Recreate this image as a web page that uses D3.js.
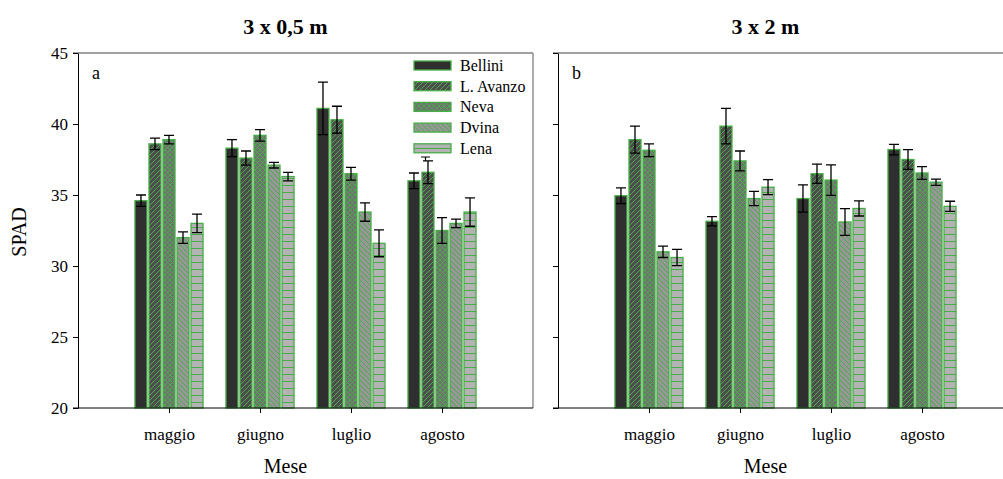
<!DOCTYPE html>
<html>
<head>
<meta charset="utf-8">
<script src="https://cdn.jsdelivr.net/npm/d3@7"></script>
<style>
  body { margin: 0; background: #fff; }
  svg text { font-family: "Liberation Serif", "Times New Roman", serif; fill: #000; }
</style>
</head>
<body>
<svg id="chart" width="1003" height="479"></svg>
<script>
// Months and cultivars
var months = ['maggio', 'giugno', 'luglio', 'agosto'];
var cultivars = ['Bellini', 'L. Avanzo', 'Neva', 'Dvina', 'Lena'];
var yTicks = [20, 25, 30, 35, 40, 45];

// Panel a (3 x 0,5 m): mean per cultivar, one array per month
var meanA = [
    [34.6, 38.6, 38.9, 32.0, 33.0],
    [38.3, 37.6, 39.2, 37.1, 36.3],
    [41.1, 40.3, 36.5, 33.8, 31.6],
    [36.0, 36.6, 32.5, 33.0, 33.8]
];
var errA = [
    [0.4, 0.4, 0.3, 0.4, 0.65],
    [0.6, 0.5, 0.4, 0.2, 0.3],
    [1.85, 0.95, 0.45, 0.65, 0.95],
    [0.55, 0.8, 0.9, 0.3, 1.0]
];

// Panel b (3 x 2 m)
var meanB = [
    [34.95, 38.9, 38.15, 31.0, 30.6],
    [33.15, 39.85, 37.4, 34.75, 35.55],
    [34.75, 36.5, 36.05, 33.1, 34.05],
    [38.2, 37.5, 36.55, 35.9, 34.2]
];
var errB = [
    [0.55, 0.95, 0.45, 0.4, 0.57],
    [0.33, 1.25, 0.7, 0.5, 0.53],
    [0.96, 0.68, 1.07, 0.94, 0.53],
    [0.37, 0.7, 0.45, 0.22, 0.36]
];

var green = '#48ad48';
var svg = d3.select('#chart');
var defs = svg.append('defs');

// Fill patterns for each cultivar
function makePattern(id, bg, size, lines) {
    var p = defs.append('pattern')
        .attr('id', id)
        .attr('patternUnits', 'userSpaceOnUse')
        .attr('width', size)
        .attr('height', size);
    p.append('rect').attr('width', size).attr('height', size).attr('fill', bg);
    lines.forEach(function(l) {
        p.append('line')
            .attr('x1', l[0]).attr('y1', l[1]).attr('x2', l[2]).attr('y2', l[3])
            .attr('stroke', green).attr('stroke-width', 1);
    });
}
makePattern('pBellini', '#2f2f2f', 4, []);
makePattern('pAvanzo', '#4d4d4d', 5, [[0, 5, 5, 0], [-1, 1, 1, -1], [4, 6, 6, 4]]);
makePattern('pNeva', '#717171', 5, [[0, 5, 5, 0], [0, 0, 5, 5], [-1, 1, 1, -1], [4, 6, 6, 4], [-1, 4, 1, 6], [4, -1, 6, 1]]);
makePattern('pDvina', '#979797', 5, [[0, 0, 5, 5], [-1, 4, 1, 6], [4, -1, 6, 1]]);
makePattern('pLena', '#b3b3b3', 7, [[0, 3.5, 7, 3.5]]);
var fills = ['url(#pBellini)', 'url(#pAvanzo)', 'url(#pNeva)', 'url(#pDvina)', 'url(#pLena)'];

var y = d3.scaleLinear().domain([20, 45]).range([408, 53]);

function drawPanel(left, means, errs, label, title, showLabels) {
    var x = d3.scaleLinear().domain([0, 5]).range([left, left + 455]);
    var slot = 0.154; // space per bar in category units
    var barW = x(0.132) - x(0);
    var g = svg.append('g');

    // Bars
    means.forEach(function(row, m) {
        row.forEach(function(v, i) {
            var xc = x(m + 1 + (i - 2) * slot);
            g.append('rect')
                .attr('x', xc - barW / 2)
                .attr('y', y(v))
                .attr('width', barW)
                .attr('height', y(20) - y(v))
                .attr('fill', fills[i])
                .attr('stroke', green)
                .attr('stroke-width', 1.3);
            var e = errs[m][i];
            g.append('path')
                .attr('d', 'M' + (xc - 5) + ',' + y(v + e) + 'H' + (xc + 5) +
                    'M' + xc + ',' + y(v + e) + 'V' + y(v - e) +
                    'M' + (xc - 5) + ',' + y(v - e) + 'H' + (xc + 5))
                .attr('stroke', '#000')
                .attr('stroke-width', 1.3)
                .attr('fill', 'none');
        });
    });

    // Frame: top and right in gray
    g.append('line').attr('x1', left - 5).attr('x2', x(5)).attr('y1', y(45)).attr('y2', y(45))
        .attr('stroke', '#808080').attr('stroke-width', 1.3);
    g.append('line').attr('x1', x(5)).attr('x2', x(5)).attr('y1', y(45)).attr('y2', y(20))
        .attr('stroke', '#808080').attr('stroke-width', 1.3);

    // Axes
    var yAxis = d3.axisLeft(y).tickValues(yTicks).tickSize(5).tickSizeOuter(0)
        .tickFormat(showLabels ? d3.format('d') : '');
    var ya = g.append('g').attr('transform', 'translate(' + left + ',0)').call(yAxis);
    ya.select('.domain').attr('stroke', '#000');
    ya.selectAll('text').attr('font-size', 17).attr('x', -10);

    var xAxis = d3.axisBottom(x).tickValues([1, 2, 3, 4]).tickSize(5).tickSizeOuter(0)
        .tickFormat(function(d) { return months[d - 1]; });
    var xa = g.append('g').attr('transform', 'translate(0,' + y(20) + ')').call(xAxis);
    xa.select('.domain').attr('d', 'M' + (left - 5) + ',0H' + x(5));
    xa.selectAll('text').attr('font-size', 17).attr('y', 20);

    g.append('text').attr('x', left + 14).attr('y', 79).attr('font-size', 18).text(label);
    g.append('text').attr('x', x(2.28)).attr('y', 473).attr('font-size', 20)
        .attr('text-anchor', 'middle').text('Mese');
    g.append('text').attr('x', x(2.28)).attr('y', 34).attr('font-size', 22)
        .attr('font-weight', 'bold').attr('text-anchor', 'middle').text(title);
}

drawPanel(78, meanA, errA, 'a', '3 x 0,5 m', true);
drawPanel(558, meanB, errB, 'b', '3 x 2 m', false);

// Y label
svg.append('text')
    .attr('transform', 'translate(26,232) rotate(-90)')
    .attr('text-anchor', 'middle')
    .attr('font-size', 20)
    .text('SPAD');

// Legend
var legend = svg.append('g').attr('transform', 'translate(414,61)');
cultivars.forEach(function(c, i) {
    legend.append('rect')
        .attr('x', 0).attr('y', i * 20.7)
        .attr('width', 37).attr('height', 9)
        .attr('fill', fills[i]).attr('stroke', green).attr('stroke-width', 1.3);
    legend.append('text')
        .attr('x', 46).attr('y', i * 20.7 + 10)
        .attr('font-size', 16).text(c);
});
legend.append('path')
    .attr('d', 'M7,96H16M11.5,96V100')
    .attr('stroke', '#000').attr('stroke-width', 1.2);
</script>
</body>
</html>
